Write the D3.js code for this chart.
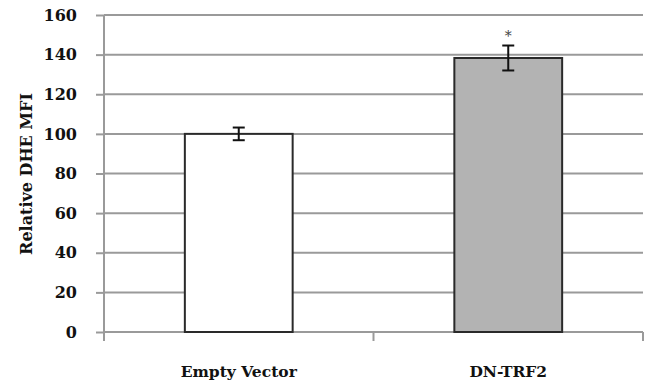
<!DOCTYPE html>
<html><head><meta charset="utf-8">
<script src="https://cdn.jsdelivr.net/npm/d3@7"></script>
<style>html,body{margin:0;padding:0;background:#fff;}</style>
</head><body>
<svg id="c" width="645" height="383"></svg>
<script>
const categories = ["Empty Vector", "DN-TRF2"];
const values = [100, 138.3];
const errors = [3.2, 6.3];
const significance = ["", "*"];
const yTicks = [0, 20, 40, 60, 80, 100, 120, 140, 160];
const fills = ["#ffffff", "#b3b3b3"];

const svg = d3.select("#c");
const m = {left: 104, right: 643, top: 15, bottom: 332};
const x = d3.scaleBand().domain(categories).range([m.left, m.right]).paddingInner(0.6).paddingOuter(0.3);
const y = d3.scaleLinear().domain([0, 160]).range([m.bottom, m.top]);
const font = "'DejaVu Serif', serif";

// gridlines
svg.append("g").selectAll("line").data(yTicks.filter(d => d > 0)).join("line")
  .attr("x1", m.left).attr("x2", m.right)
  .attr("y1", d => y(d)).attr("y2", d => y(d))
  .attr("stroke", "#9a9a9a").attr("stroke-width", 2);

// y axis
const ya = svg.append("g").attr("transform", `translate(${m.left},0)`)
  .call(d3.axisLeft(y).tickValues(yTicks).tickSize(8).tickPadding(19));
ya.select(".domain").attr("stroke", "#9a9a9a").attr("stroke-width", 2).attr("d", `M0,${m.top}V${m.bottom + 6}`);
ya.selectAll(".tick line").attr("stroke", "#9a9a9a").attr("stroke-width", 2);
ya.selectAll(".tick text").attr("font-family", font).attr("font-weight", "bold")
  .attr("font-size", 16).attr("fill", "#111");

// x axis
const band = (m.right - m.left) / categories.length;
const xa = svg.append("g").attr("transform", `translate(0,${m.bottom})`);
xa.append("line").attr("x1", m.left).attr("x2", m.right).attr("stroke", "#9a9a9a").attr("stroke-width", 2);
xa.selectAll("line.t").data(d3.range(categories.length + 1)).join("line").attr("class", "t")
  .attr("x1", i => m.left + i * band).attr("x2", i => m.left + i * band)
  .attr("y1", 0).attr("y2", 9).attr("stroke", "#9a9a9a").attr("stroke-width", 2);
xa.selectAll("text").data(categories).join("text")
  .attr("x", d => x(d) + x.bandwidth() / 2).attr("y", 45)
  .attr("text-anchor", "middle").attr("font-family", font).attr("font-weight", "bold")
  .attr("font-size", 15.5).attr("fill", "#111").text(d => d);

// bars
svg.append("g").selectAll("rect").data(categories).join("rect")
  .attr("x", d => x(d)).attr("width", x.bandwidth())
  .attr("y", (d, i) => y(values[i])).attr("height", (d, i) => y(0) - y(values[i]))
  .attr("fill", (d, i) => fills[i]).attr("stroke", "#2a2a2a").attr("stroke-width", 2);

// error bars
const eb = svg.append("g").attr("stroke", "#111").attr("stroke-width", 2);
categories.forEach((c, i) => {
  const cx = x(c) + x.bandwidth() / 2;
  const hi = y(values[i] + errors[i]), lo = y(values[i] - errors[i]);
  eb.append("line").attr("x1", cx).attr("x2", cx).attr("y1", hi).attr("y2", lo);
  eb.append("line").attr("x1", cx - 6).attr("x2", cx + 6).attr("y1", hi).attr("y2", hi);
  eb.append("line").attr("x1", cx - 6).attr("x2", cx + 6).attr("y1", lo).attr("y2", lo);
  if (significance[i]) {
    svg.append("text").attr("x", cx).attr("y", hi - 5).attr("text-anchor", "middle")
      .attr("font-family", font).attr("font-size", 14).attr("fill", "#444").text(significance[i]);
  }
});

// y label
svg.append("text").attr("transform", "translate(26,174) rotate(-90)")
  .attr("text-anchor", "middle").attr("dominant-baseline", "central")
  .attr("font-family", font).attr("font-weight", "bold").attr("font-size", 16)
  .attr("fill", "#111").text("Relative DHE MFI");
</script>
</body></html>
